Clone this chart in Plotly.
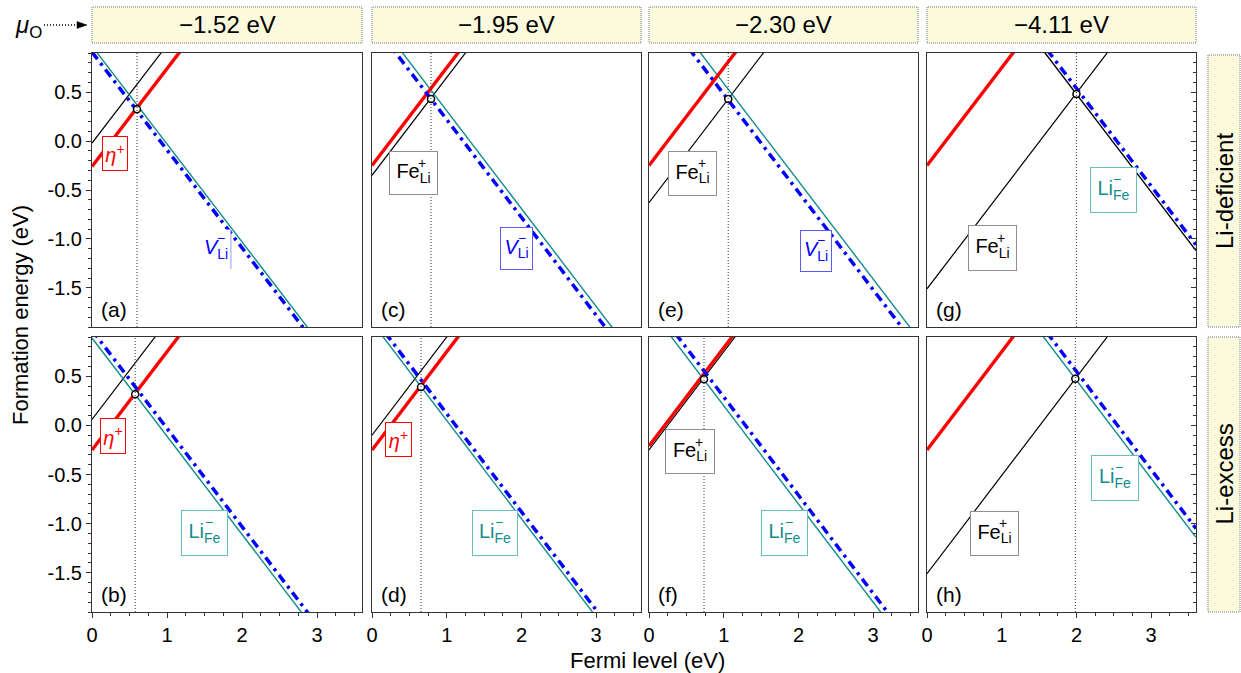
import plotly.graph_objects as go

W, H = 1241, 673

# ---------------- data ----------------
# panel order: top row a, c, e, g ; bottom row b, d, f, h
panel_labels = ["(a)", "(c)", "(e)", "(g)", "(b)", "(d)", "(f)", "(h)"]
mu_O_values = ["\u22121.52 eV", "\u22121.95 eV", "\u22122.30 eV", "\u22124.11 eV"]
row_labels = ["Li-deficient", "Li-excess"]

fermi_range = [0.0, 3.6]
energy_range = [-1.9, 0.9]

# formation energies at E_F = 0 (eV)
eta_E0 = [-0.26, -0.25, -0.25, -0.25, -0.25, -0.25, -0.21, -0.25]
FeLi_E0 = [-0.02, -0.35, -0.63, -1.51, 0.06, -0.10, -0.25, -1.51]
LiFe_E0 = [0.97, 1.31, 1.59, 2.48, 0.89, 1.05, 1.20, 2.46]
VLi_E0 = [0.91, 1.22, 1.48, 2.54, 0.97, 1.12, 1.29, 2.55]
# charge states (slopes)
q_eta, q_FeLi, q_LiFe, q_VLi = 1, 1, -1, -1
# pinned Fermi level and energy
EF_pin = [0.60, 0.79, 1.06, 2.00, 0.576, 0.656, 0.736, 1.985]
E_pin = [0.325, 0.43, 0.43, 0.48, 0.316, 0.39, 0.47, 0.476]

x_ticks = [0, 1, 2, 3]
y_ticks = [-1.5, -1.0, -0.5, 0.0, 0.5]
y_ticktext = ["-1.5", "-1.0", "-0.5", "0.0", "0.5"]

# ---------------- layout geometry (px) ----------------
cols_px = [(92, 362), (372, 641), (649, 918), (927, 1196)]
rows_px = [(53, 327), (337, 612)]

RED = "#ff0000"
BLUE = "#0000ff"
TEAL = "#128c8c"
BLACK = "#000000"
FONT = "Arial, Liberation Sans, sans-serif"
YELLOW = "#fcfadc"


def px(x):
    return x / W


def py(y):
    return 1 - y / H


fig = go.Figure()
layout = dict(
    width=W, height=H,
    margin=dict(l=0, r=0, t=0, b=0, pad=0, autoexpand=False),
    paper_bgcolor="white", plot_bgcolor="white",
    showlegend=False,
    font=dict(family=FONT, size=20, color="black"),
)
shapes = []
annotations = []

for k in range(8):
    r, c = divmod(k, 4)
    n = k + 1
    xa = "x" if n == 1 else f"x{n}"
    ya = "y" if n == 1 else f"y{n}"
    xr = [fermi_range[0], fermi_range[1]]

    lines = [
        (FeLi_E0[k], q_FeLi, dict(color=BLACK, width=1.2)),
        (LiFe_E0[k], q_LiFe, dict(color=BLACK if k == 3 else TEAL, width=1.4)),
        (eta_E0[k], q_eta, dict(color=RED, width=3.4)),
        (VLi_E0[k], q_VLi, dict(color=BLUE, width=3.5, dash="9px,5px,3px,5px")),
    ]
    for e0, q, ln in lines:
        fig.add_trace(go.Scatter(
            x=xr, y=[e0 + q * xv for xv in xr], mode="lines", line=ln,
            xaxis=xa, yaxis=ya, hoverinfo="skip"))

    shapes.append(dict(type="line", xref=xa, yref=f"{ya} domain",
                       x0=EF_pin[k], x1=EF_pin[k], y0=0, y1=1,
                       line=dict(color="#333", width=1, dash="1px,2px"), layer="above"))
    fig.add_trace(go.Scatter(
        x=[EF_pin[k]], y=[E_pin[k]], mode="markers",
        marker=dict(symbol="circle", size=7, color="white",
                    line=dict(color="black", width=1.5)),
        xaxis=xa, yaxis=ya, hoverinfo="skip"))

    x0, x1 = cols_px[c]
    y0, y1 = rows_px[r]
    xkey = "xaxis" if n == 1 else f"xaxis{n}"
    ykey = "yaxis" if n == 1 else f"yaxis{n}"
    xaxis = dict(domain=[px(x0), px(x1)], anchor=ya, range=fermi_range,
                 showgrid=False, zeroline=False, showline=True, mirror=True,
                 linecolor="#333", linewidth=1, automargin=False)
    if r == 1:
        xaxis.update(ticks="outside", ticklen=5, tickcolor="#333",
                     tickmode="array", tickvals=x_ticks,
                     ticktext=[str(t) for t in x_ticks],
                     tickfont=dict(size=20),
                     minor=dict(tickmode="linear", tick0=0, dtick=0.25,
                                ticks="outside", ticklen=3, tickcolor="#333"))
    else:
        xaxis.update(showticklabels=False, ticks="")
    yaxis = dict(domain=[py(y1), py(y0)], anchor=xa, range=energy_range,
                 showgrid=False, zeroline=False, showline=True, mirror=True,
                 linecolor="#333", linewidth=1, automargin=False)
    if c == 0:
        yaxis.update(ticks="outside", ticklen=5, tickcolor="#333",
                     tickmode="array", tickvals=y_ticks, ticktext=y_ticktext,
                     tickfont=dict(size=20),
                     minor=dict(tickmode="linear", tick0=0, dtick=0.1,
                                ticks="outside", ticklen=3, tickcolor="#333"))
    elif c == 3:
        yaxis.update(side="right", ticks="inside", ticklen=5, tickcolor="#333",
                     tickmode="array", tickvals=y_ticks, showticklabels=False,
                     minor=dict(tickmode="linear", tick0=0, dtick=0.1,
                                ticks="inside", ticklen=3, tickcolor="#333"))
    else:
        yaxis.update(showticklabels=False, ticks="")
    layout[xkey] = xaxis
    layout[ykey] = yaxis

    annotations.append(dict(text=panel_labels[k], xref=f"{xa} domain", yref=f"{ya} domain",
                            x=0.025, y=0.015, xanchor="left", yanchor="bottom",
                            showarrow=False, font=dict(size=21)))

# ---------------- defect labels ----------------
# (panel index, kind, x, y, box w, box h)
label_spots = [
    (0, "eta", 0.31, -0.13, 26, 35), (0, "VLi_open", 1.65, -1.105, 30, 40),
    (1, "FeLi", 0.55, -0.33, 49, 44), (1, "VLi", 1.94, -1.10, 33, 43),
    (2, "FeLi", 0.585, -0.33, 49, 45), (2, "VLi", 2.24, -1.12, 32, 42),
    (3, "LiFe", 2.49, -0.50, 47, 46), (3, "FeLi", 0.87, -1.09, 49, 46),
    (4, "eta", 0.28, -0.105, 26, 36), (4, "LiFe", 1.50, -1.10, 47, 46),
    (5, "eta", 0.355, -0.145, 27, 35), (5, "LiFe", 1.65, -1.10, 46, 46),
    (6, "FeLi", 0.55, -0.27, 50, 45), (6, "LiFe", 1.82, -1.10, 47, 46),
    (7, "LiFe", 2.51, -0.54, 48, 46), (7, "FeLi", 0.90, -1.10, 49, 45),
]
kinds = {
    "eta": ("<i>\u03b7</i><sup>+</sup>", RED, RED, None, 0, 0),
    "FeLi": ("Fe<sub>Li</sub>", BLACK, "#8f8f8f", "+", 9, 10),
    "LiFe": ("Li<sub>Fe</sub>", TEAL, "#6bbcbc", "\u2212", 4, 11),
    "VLi": ("<i>V</i><sub>Li</sub>", BLUE, "#5a5aff", "\u2212", 5, 11),
    "VLi_open": ("<i>V</i><sub>Li</sub>", BLUE, "rgba(0,0,0,0)", "\u2212", 5, 11),
}
for k, kind, lx, ly, bw, bh in label_spots:
    n = k + 1
    xa = "x" if n == 1 else f"x{n}"
    ya = "y" if n == 1 else f"y{n}"
    txt, tcol, bcol, ch, sx, sy = kinds[kind]
    annotations.append(dict(text=txt, xref=xa, yref=ya, x=lx, y=ly, showarrow=False,
                            xanchor="center", yanchor="middle",
                            width=bw - 2, height=bh - 2, bgcolor="white",
                            bordercolor=bcol, borderwidth=1, borderpad=0,
                            font=dict(size=20, color=tcol)))
    if ch:
        annotations.append(dict(text=ch, xref=xa, yref=ya, x=lx, y=ly, showarrow=False,
                                xanchor="center", yanchor="middle",
                                xshift=sx, yshift=sy, font=dict(size=14, color=tcol)))
    if kind == "VLi_open":
        shapes.append(dict(type="line", xref=f"{xa}", yref=f"{ya}",
                           x0=lx + 0.2, x1=lx + 0.2, y0=ly + 0.2, y1=ly - 0.2,
                           line=dict(color="#5a5aff", width=1)))

# ---------------- headers, strips, titles ----------------
for c, txt in enumerate(mu_O_values):
    x0, x1 = cols_px[c]
    shapes.append(dict(type="rect", xref="paper", yref="paper",
                       x0=px(x0), x1=px(x1), y0=py(43), y1=py(7),
                       fillcolor=YELLOW, line=dict(color="#777", width=1, dash="1px,1px")))
    annotations.append(dict(text=txt, xref="paper", yref="paper",
                            x=px((x0 + x1) / 2), y=py(25), showarrow=False,
                            xanchor="center", yanchor="middle",
                            font=dict(size=24)))

strip_px = [(55, 327), (337, 612)]
for r, txt in enumerate(row_labels):
    y0, y1 = strip_px[r]
    shapes.append(dict(type="rect", xref="paper", yref="paper",
                       x0=px(1208), x1=px(1240), y0=py(y1), y1=py(y0),
                       fillcolor=YELLOW, line=dict(color="#777", width=1, dash="1px,1px")))
    annotations.append(dict(text=txt, xref="paper", yref="paper",
                            x=px(1224), y=py((y0 + y1) / 2), showarrow=False,
                            xanchor="center", yanchor="middle",
                            textangle=-90, font=dict(size=24)))

annotations.append(dict(text="<i>\u03bc</i><sub>O</sub>", xref="paper", yref="paper",
                        x=px(28), y=py(27), showarrow=False,
                        xanchor="center", yanchor="middle", font=dict(size=24)))
shapes.append(dict(type="line", xref="paper", yref="paper",
                   x0=px(44), x1=px(80), y0=py(25), y1=py(25),
                   line=dict(color="black", width=1.5, dash="1px,2px")))
shapes.append(dict(type="path", xref="paper", yref="paper",
                   path=f"M {px(77)},{py(21.5)} L {px(87)},{py(25)} L {px(77)},{py(28.5)} Z",
                   fillcolor="black", line=dict(color="black", width=0.5)))

annotations.append(dict(text="Formation energy (eV)", xref="paper", yref="paper",
                        x=px(20), y=py(315), showarrow=False, textangle=-90,
                        xanchor="center", yanchor="middle",
                        font=dict(size=22)))
annotations.append(dict(text="Fermi level (eV)", xref="paper", yref="paper",
                        x=px(647), y=py(660), showarrow=False,
                        xanchor="center", yanchor="middle", font=dict(size=22)))

layout["shapes"] = shapes
layout["annotations"] = annotations
fig.update_layout(**layout)
fig.write_html("out.html")
